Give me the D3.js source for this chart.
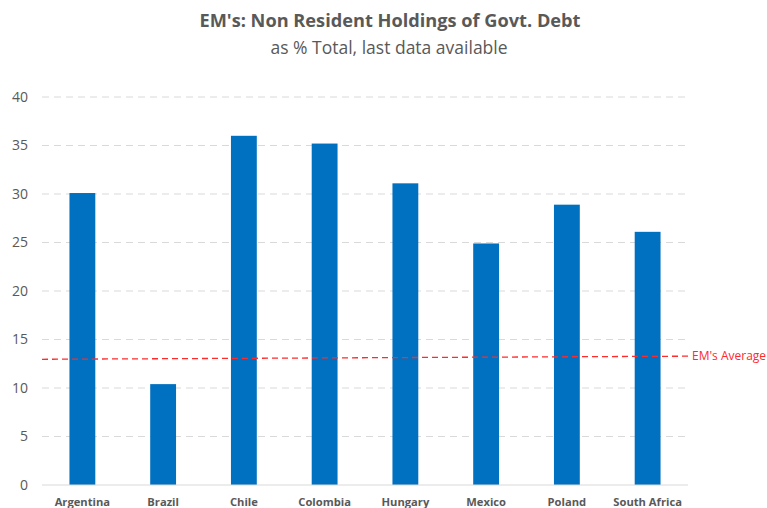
<!DOCTYPE html>
<html>
<head>
<meta charset="utf-8">
<script src="https://cdn.jsdelivr.net/npm/d3@7"></script>
<style>
  body { margin: 0; background: #fff; }
  text { font-family: "Open Sans", "Liberation Sans", sans-serif; }
</style>
</head>
<body>
<div id="wrapper"></div>
<script>
const countries = ["Argentina", "Brazil", "Chile", "Colombia", "Hungary", "Mexico", "Poland", "South Africa"];
const holdings = [30.1, 10.4, 36.0, 35.2, 31.1, 24.9, 28.9, 26.1];
const yTicks = [0, 5, 10, 15, 20, 25, 30, 35, 40];
const averageLine = [12.96, 13.28]; // start, end of the EM's average line

const width = 767;
let dimensions = {
  width,
  height: 508,
  margin: { top: 97, right: 79, bottom: 23, left: 42 },
};
dimensions.boundedWidth = dimensions.width - dimensions.margin.left - dimensions.margin.right;
dimensions.boundedHeight = dimensions.height - dimensions.margin.top - dimensions.margin.bottom;

const wrapper = d3.select("#wrapper")
  .append("svg")
  .attr("width", dimensions.width)
  .attr("height", dimensions.height);

wrapper.append("text")
  .attr("x", 390).attr("y", 27)
  .attr("text-anchor", "middle")
  .attr("font-size", 18.2).attr("font-weight", "bold")
  .attr("fill", "#595959")
  .text("EM's: Non Resident Holdings of Govt. Debt");

wrapper.append("text")
  .attr("x", 389).attr("y", 54)
  .attr("text-anchor", "middle")
  .attr("font-size", 17.5)
  .attr("fill", "#595959")
  .text("as % Total, last data available");

const bounds = wrapper.append("g")
  .attr("transform", `translate(${dimensions.margin.left},${dimensions.margin.top})`);

const xScale = d3.scaleBand()
  .domain(countries)
  .range([0, dimensions.boundedWidth])
  .paddingInner(0.68)
  .paddingOuter(0.34);

const yScale = d3.scaleLinear()
  .domain([0, 40])
  .range([dimensions.boundedHeight, 0]);

// gridlines
bounds.append("g")
  .selectAll("line")
  .data(yTicks.filter(d => d > 0))
  .join("line")
  .attr("x1", 0).attr("x2", dimensions.boundedWidth)
  .attr("y1", d => yScale(d)).attr("y2", d => yScale(d))
  .attr("stroke", "#d9d9d9")
  .attr("stroke-width", 1)
  .attr("stroke-dasharray", "7,5");

// y labels
bounds.append("g")
  .selectAll("text")
  .data(yTicks)
  .join("text")
  .attr("x", -14)
  .attr("y", d => yScale(d))
  .attr("dy", "0.35em")
  .attr("text-anchor", "end")
  .attr("font-size", 14)
  .attr("fill", "#595959")
  .text(d => d);

// bars
bounds.append("g")
  .selectAll("rect")
  .data(countries)
  .join("rect")
  .attr("x", d => xScale(d))
  .attr("y", (d, i) => yScale(holdings[i]))
  .attr("width", xScale.bandwidth())
  .attr("height", (d, i) => dimensions.boundedHeight - yScale(holdings[i]))
  .attr("fill", "#0070c0");

// x axis line
bounds.append("line")
  .attr("x1", 0).attr("x2", dimensions.boundedWidth)
  .attr("y1", dimensions.boundedHeight).attr("y2", dimensions.boundedHeight)
  .attr("stroke", "#d9d9d9");

// x labels
bounds.append("g")
  .selectAll("text")
  .data(countries)
  .join("text")
  .attr("x", d => xScale(d) + xScale.bandwidth() / 2)
  .attr("y", dimensions.boundedHeight + 21)
  .attr("text-anchor", "middle")
  .attr("font-size", 11.2).attr("font-weight", "bold")
  .attr("fill", "#595959")
  .text(d => d);

// EM's average
bounds.append("line")
  .attr("x1", 0).attr("x2", dimensions.boundedWidth)
  .attr("y1", yScale(averageLine[0])).attr("y2", yScale(averageLine[1]))
  .attr("stroke", "#ff2a2a")
  .attr("stroke-width", 1.3)
  .attr("stroke-dasharray", "6,4");

bounds.append("text")
  .attr("x", dimensions.boundedWidth + 4)
  .attr("y", yScale(averageLine[1]))
  .attr("dy", "0.3em")
  .attr("font-size", 12)
  .attr("fill", "#ff2a2a")
  .text("EM's Average");
</script>
</body>
</html>
